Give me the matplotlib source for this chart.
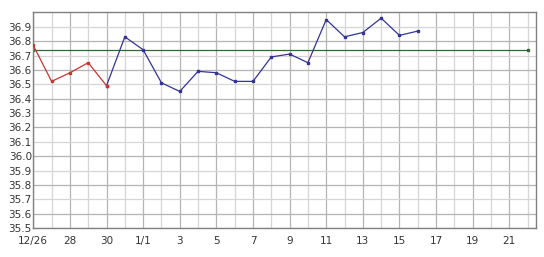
import matplotlib
matplotlib.use("Agg")
import matplotlib.pyplot as plt

# day index 0 = 12/26
red_days = [0, 1, 2, 3, 4]
red_vals = [36.77, 36.52, 36.58, 36.65, 36.49]

blue_days = [4, 5, 6, 7, 8, 9, 10, 11, 12, 13, 14, 15, 16, 17, 18, 19, 20, 21]
blue_vals = [36.49, 36.83, 36.74, 36.51, 36.45, 36.59, 36.58, 36.52, 36.52,
             36.69, 36.71, 36.65, 36.95, 36.83, 36.86, 36.96, 36.84, 36.87]

avg_days = [0, 27]
avg_vals = [36.74, 36.74]

tick_days = [0, 2, 4, 6, 8, 10, 12, 14, 16, 18, 20, 22, 24, 26]
tick_labels = ["12/26", "28", "30", "1/1", "3", "5", "7", "9", "11", "13", "15", "17", "19", "21"]
y_ticks = [round(35.5 + 0.1 * i, 1) for i in range(15)]

fig = plt.figure(figsize=(5.44, 2.57), dpi=100)
ax = fig.add_axes([0.0612, 0.1128, 0.9238, 0.839])

# grid: darker on labelled days / every other y, lighter between
for d in range(0, 28):
    ax.axvline(d, color="#b4b4b4" if d % 2 == 0 else "#d6d6d6", lw=0.9, zorder=0)
for i in range(15):
    v = 35.5 + 0.1 * i
    ax.axhline(v, color="#b4b4b4" if i % 2 == 1 else "#d6d6d6", lw=0.9, zorder=0)

ax.plot(avg_days, avg_vals, color="#336633", lw=0.9, marker="s", ms=1.5, zorder=2)
ax.plot(blue_days, blue_vals, color="#333399", lw=0.9, marker="s", ms=1.6, zorder=3)
ax.plot(red_days, red_vals, color="#cc3333", lw=0.9, marker="s", ms=1.6, zorder=4)

ax.set_xlim(0, 27.45)
ax.set_ylim(35.5, 37.0)
ax.set_xticks(tick_days)
ax.set_xticklabels(tick_labels)
ax.set_yticks(y_ticks)
ax.set_yticklabels([f"{v:.1f}" for v in y_ticks])
ax.tick_params(length=0, labelsize=7.5, colors="#333333")
ax.tick_params(axis="x", pad=5.5)
ax.tick_params(axis="y", pad=1)
for s in ax.spines.values():
    s.set_color("#808080")
    s.set_linewidth(1)

fig.savefig("out.png", dpi=100)
